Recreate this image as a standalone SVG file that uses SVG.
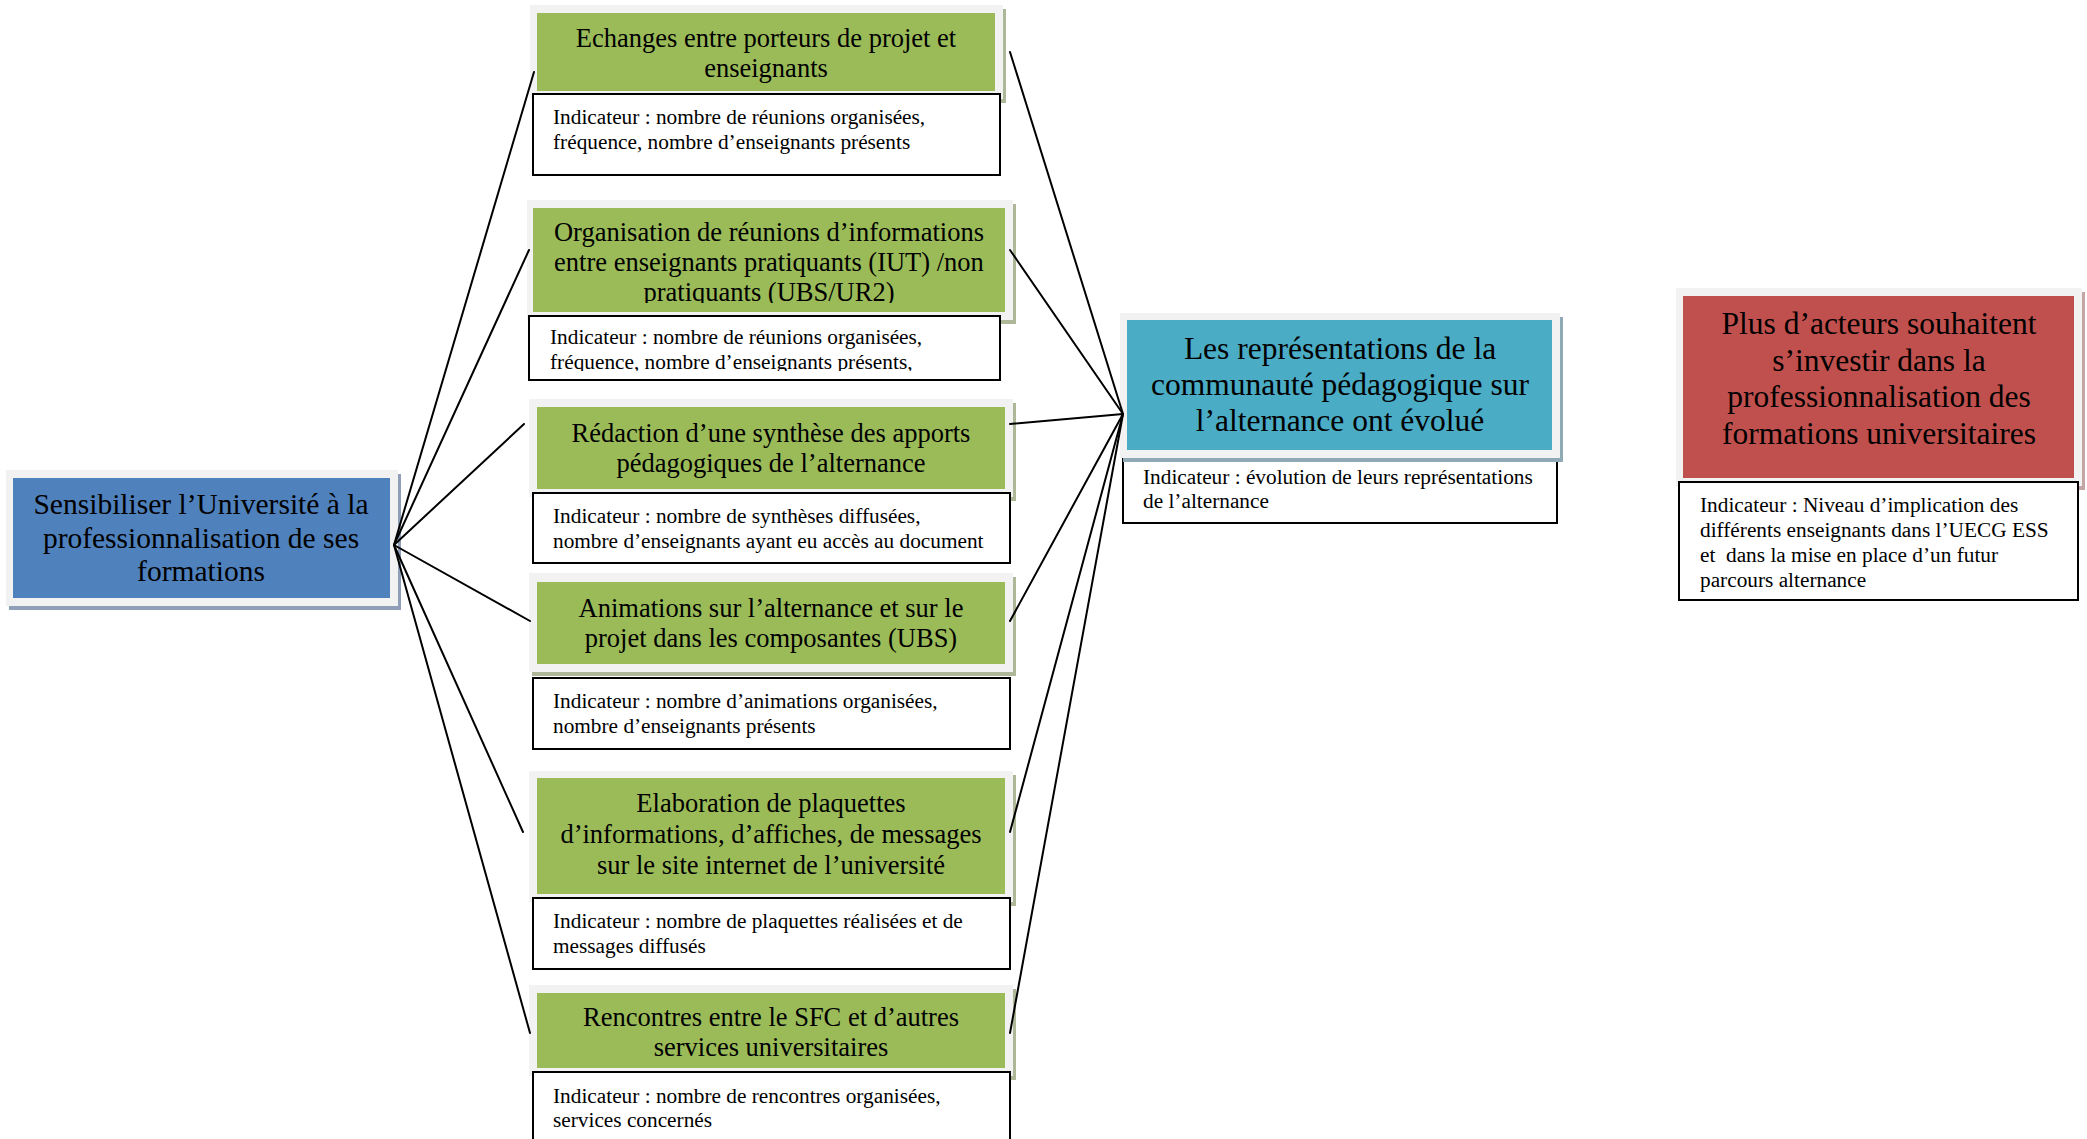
<svg xmlns="http://www.w3.org/2000/svg" width="2087" height="1139" viewBox="0 0 2087 1139">
<style>
.t{font-family:"Liberation Serif","Times New Roman",serif;fill:#000}
.big{font-size:31.5px;text-anchor:middle}
.bl{font-size:29.5px;text-anchor:middle}
.g{font-size:26.5px;text-anchor:middle}
.ind{font-size:21.3px}
.frame{fill:#F2F2F2}
.box{fill:#FFFFFF;stroke:#000;stroke-width:2}
.gf{fill:#9BBB59}
.gs{fill:#AEB898}
.conn line{stroke:#000;stroke-width:2;stroke-linecap:round}
</style>
<defs>
<clipPath id="c2"><rect x="533" y="208" width="472" height="95"/></clipPath>
<clipPath id="ci2"><rect x="529" y="316" width="471" height="55"/></clipPath>
</defs>
<rect width="2087" height="1139" fill="#FFFFFF"/>

<g id="n-blue">
<rect x="9" y="474" width="392" height="136" fill="#8E9FB7"/>
<rect class="frame" x="6" y="470" width="392" height="136"/>
<rect x="13" y="478" width="377" height="120" fill="#4F81BD"/>
<text class="t bl" x="201" y="514">Sensibiliser l’Université à la</text>
<text class="t bl" x="201" y="548">professionnalisation de ses</text>
<text class="t bl" x="201" y="581">formations</text>
</g>

<g id="n-g1">
<rect class="gs" x="533" y="9" width="473" height="94"/>
<rect class="frame" x="530" y="5" width="473" height="94"/>
<rect class="gf" x="537" y="13" width="458" height="78"/>
<text class="t g" x="766" y="47">Echanges entre porteurs de projet et</text>
<text class="t g" x="766" y="77">enseignants</text>
<rect class="box" x="533" y="94" width="467" height="81"/>
<text class="t ind" x="553" y="124">Indicateur : nombre de réunions organisées,</text>
<text class="t ind" x="553" y="149">fréquence, nombre d’enseignants présents</text>
</g>

<g id="n-g2">
<rect class="gs" x="530" y="204" width="486" height="120"/>
<rect class="frame" x="527" y="200" width="486" height="120"/>
<rect class="gf" x="533" y="208" width="472" height="104"/>
<g clip-path="url(#c2)">
<text class="t g" x="769" y="241">Organisation de réunions d’informations</text>
<text class="t g" x="769" y="271">entre enseignants pratiquants (IUT) /non</text>
<text class="t g" x="769" y="301">pratiquants (UBS/UR2)</text>
</g>
<rect class="box" x="529" y="316" width="471" height="64"/>
<g clip-path="url(#ci2)">
<text class="t ind" x="550" y="344">Indicateur : nombre de réunions organisées,</text>
<text class="t ind" x="550" y="369">fréquence, nombre d’enseignants présents,</text>
</g>
</g>

<g id="n-g3">
<rect class="gs" x="532" y="403" width="484" height="98"/>
<rect class="frame" x="529" y="399" width="484" height="98"/>
<rect class="gf" x="537" y="407" width="468" height="82"/>
<text class="t g" x="771" y="442">Rédaction d’une synthèse des apports</text>
<text class="t g" x="771" y="472">pédagogiques de l’alternance</text>
<rect class="box" x="533" y="493" width="477" height="70"/>
<text class="t ind" x="553" y="523">Indicateur : nombre de synthèses diffusées,</text>
<text class="t ind" x="553" y="548">nombre d’enseignants ayant eu accès au document</text>
</g>

<g id="n-g4">
<rect class="gs" x="532" y="577" width="484" height="99"/>
<rect class="frame" x="529" y="573" width="484" height="99"/>
<rect class="gf" x="537" y="582" width="468" height="82"/>
<text class="t g" x="771" y="617">Animations sur l’alternance et sur le</text>
<text class="t g" x="771" y="647">projet dans les composantes (UBS)</text>
<rect class="box" x="533" y="678" width="477" height="71"/>
<text class="t ind" x="553" y="708">Indicateur : nombre d’animations organisées,</text>
<text class="t ind" x="553" y="733">nombre d’enseignants présents</text>
</g>

<g id="n-g5">
<rect class="gs" x="532" y="775" width="484" height="131"/>
<rect class="frame" x="529" y="771" width="484" height="131"/>
<rect class="gf" x="537" y="778" width="468" height="116"/>
<text class="t g" x="771" y="812">Elaboration de plaquettes</text>
<text class="t g" x="771" y="843">d’informations, d’affiches, de messages</text>
<text class="t g" x="771" y="874">sur le site internet de l’université</text>
<rect class="box" x="533" y="898" width="477" height="71"/>
<text class="t ind" x="553" y="928">Indicateur : nombre de plaquettes réalisées et de</text>
<text class="t ind" x="553" y="953">messages diffusés</text>
</g>

<g id="n-g6">
<rect class="gs" x="532" y="989" width="484" height="91"/>
<rect class="frame" x="529" y="985" width="484" height="91"/>
<rect class="gf" x="537" y="993" width="468" height="75"/>
<text class="t g" x="771" y="1026">Rencontres entre le SFC et d’autres</text>
<text class="t g" x="771" y="1056">services universitaires</text>
<rect class="box" x="533" y="1072" width="477" height="80"/>
<text class="t ind" x="553" y="1103">Indicateur : nombre de rencontres organisées,</text>
<text class="t ind" x="553" y="1127">services concernés</text>
</g>

<g id="n-teal">
<rect class="box" x="1123" y="457" width="434" height="66"/>
<text class="t ind" x="1143" y="484">Indicateur : évolution de leurs représentations</text>
<text class="t ind" x="1143" y="508">de l’alternance</text>
<rect x="1123" y="317" width="440" height="145" fill="#8FAAB5"/>
<rect class="frame" x="1120" y="313" width="440" height="145"/>
<rect x="1127" y="320" width="425" height="130" fill="#4BACC6"/>
<text class="t big" x="1340" y="359">Les représentations de la</text>
<text class="t big" x="1340" y="395">communauté pédagogique sur</text>
<text class="t big" x="1340" y="431">l’alternance ont évolué</text>
</g>

<g id="n-red">
<rect x="1679" y="292" width="406" height="198" fill="#C4A5A5"/>
<rect class="frame" x="1676" y="288" width="406" height="198"/>
<rect x="1683" y="296" width="391" height="182" fill="#C0504D"/>
<text class="t big" x="1879" y="334">Plus d’acteurs souhaitent</text>
<text class="t big" x="1879" y="371">s’investir dans la</text>
<text class="t big" x="1879" y="407">professionnalisation des</text>
<text class="t big" x="1879" y="444">formations universitaires</text>
<rect class="box" x="1679" y="482" width="399" height="118"/>
<text class="t ind" x="1700" y="512">Indicateur : Niveau d’implication des</text>
<text class="t ind" x="1700" y="537">différents enseignants dans l’UECG ESS</text>
<text class="t ind" x="1700" y="562" xml:space="preserve">et  dans la mise en place d’un futur</text>
<text class="t ind" x="1700" y="587">parcours alternance</text>
</g>

<g id="connectors" class="conn">
<line x1="394" y1="545" x2="534" y2="72"/>
<line x1="394" y1="545" x2="529" y2="250"/>
<line x1="394" y1="545" x2="524" y2="424"/>
<line x1="394" y1="545" x2="530" y2="621"/>
<line x1="394" y1="545" x2="523" y2="832"/>
<line x1="394" y1="545" x2="530" y2="1033"/>
<line x1="1010" y1="52" x2="1123" y2="414"/>
<line x1="1010" y1="250" x2="1123" y2="414"/>
<line x1="1010" y1="424" x2="1123" y2="414"/>
<line x1="1010" y1="621" x2="1123" y2="414"/>
<line x1="1010" y1="832" x2="1123" y2="414"/>
<line x1="1010" y1="1033" x2="1123" y2="414"/>
</g>
</svg>
